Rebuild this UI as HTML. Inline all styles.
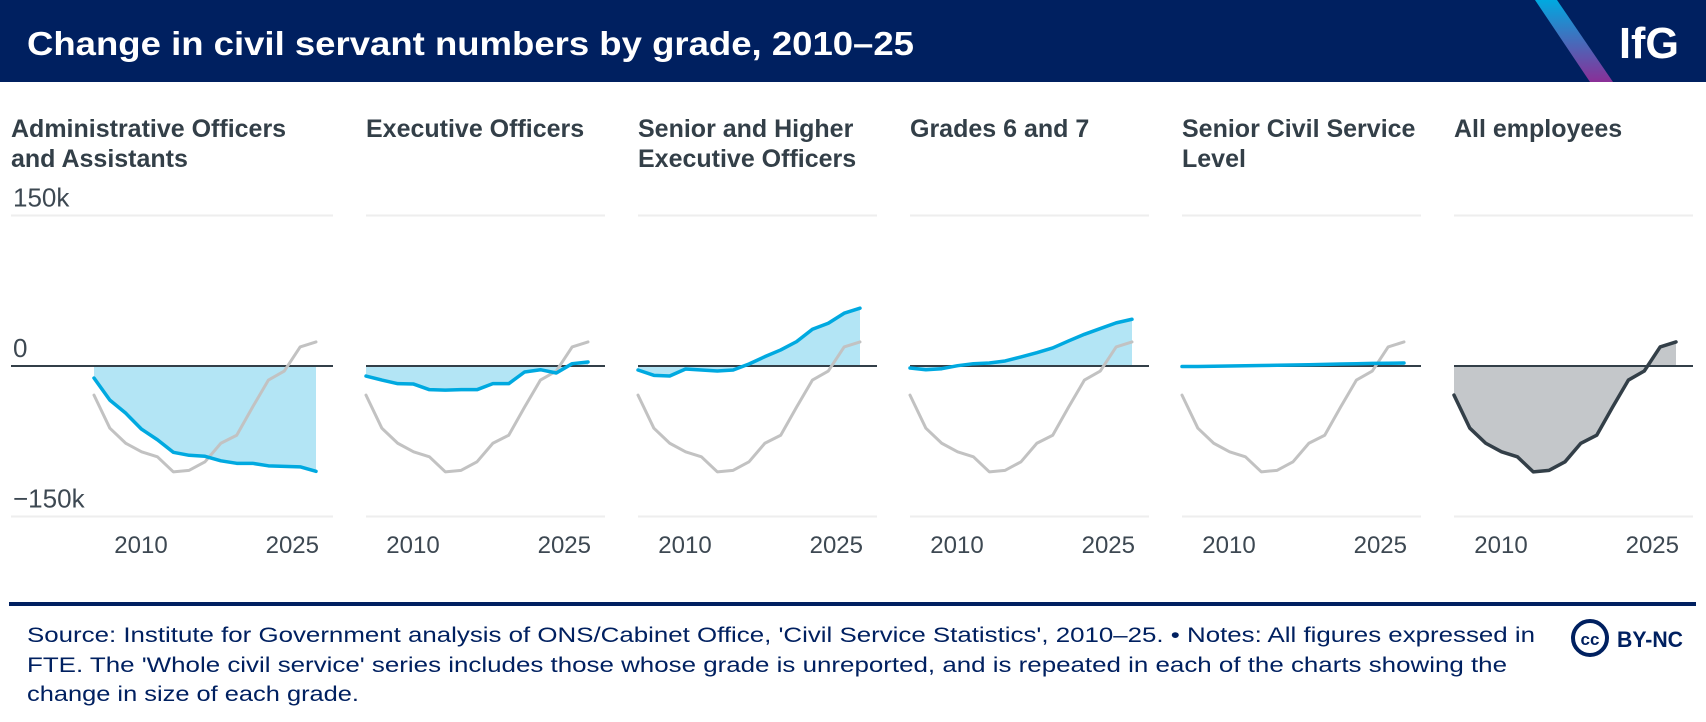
<!DOCTYPE html>
<html><head><meta charset="utf-8">
<style>
html,body{margin:0;padding:0;background:#fff;}
svg{display:block;}
text{font-family:"Liberation Sans",sans-serif;}
</style></head>
<body>
<svg id="chart" width="1706" height="722" viewBox="0 0 1706 722" xmlns="http://www.w3.org/2000/svg">
  <defs>
    <linearGradient id="stripe" x1="0" y1="0" x2="0" y2="1">
      <stop offset="0" stop-color="#00a9e0"/>
      <stop offset="1" stop-color="#8a2f97"/>
    </linearGradient>
  </defs>
  <rect x="0" y="0" width="1706" height="82" fill="#002060"/>
  <text x="27" y="55" font-size="33" font-weight="bold" fill="#fff" textLength="887" lengthAdjust="spacingAndGlyphs">Change in civil servant numbers by grade, 2010–25</text>
  <polygon points="1535,0 1557,0 1613,82 1590,82" fill="url(#stripe)"/>
  <text x="1619" y="58" font-size="44" font-weight="bold" fill="#fff" textLength="60" lengthAdjust="spacingAndGlyphs">IfG</text>
  <g id="panels"></g>
  <rect x="9" y="602" width="1687" height="4" fill="#002060"/>
  <text font-size="21" fill="#002060">
    <tspan x="27" y="642" textLength="1508" lengthAdjust="spacingAndGlyphs">Source: Institute for Government analysis of ONS/Cabinet Office, 'Civil Service Statistics', 2010–25. • Notes: All figures expressed in</tspan>
    <tspan x="27" y="672" textLength="1480" lengthAdjust="spacingAndGlyphs">FTE. The 'Whole civil service' series includes those whose grade is unreported, and is repeated in each of the charts showing the</tspan>
    <tspan x="27" y="701" textLength="332" lengthAdjust="spacingAndGlyphs">change in size of each grade.</tspan>
  </text>
  <g>
    <circle cx="1590" cy="638" r="17" fill="none" stroke="#002060" stroke-width="4"/>
    <text x="1590" y="645" font-size="17" font-weight="bold" fill="#002060" text-anchor="middle">cc</text>
    <text x="1617" y="647" font-size="22" font-weight="bold" fill="#002060" textLength="66" lengthAdjust="spacingAndGlyphs">BY-NC</text>
  </g>
</svg>
<script>
const years = [2011,2012,2013,2014,2015,2016,2017,2018,2019,2020,2021,2022,2023,2024,2025];
const wholeService = [-29,-62,-77,-85.5,-90.5,-105.5,-104,-95.5,-77,-69,-41,-14,-5,19,24];
const adminOfficers = [-12,-34,-47,-63,-73.5,-86,-89,-90,-94.5,-97,-97,-99.5,-100,-100.5,-105];
const execOfficers = [-10,-14,-17.6,-18,-23.6,-24,-23.6,-23.6,-17.6,-17.6,-6,-3.7,-7,2.3,4];
const seniorHigherEO = [-4,-9.3,-10,-3,-4,-5,-4,2,9.3,16,24.3,36.6,42.6,52.6,57.6];
const grades6and7 = [-2,-3.7,-2.7,0.3,2.3,3,5,9,13.3,18,25,31.6,37.3,43,46.6];
const seniorCivilService = [-0.5,-0.5,-0.3,0,0.3,0.5,0.7,1,1.3,1.6,2,2.3,2.6,2.8,3];
const yTicks = [150,0,-150];
const yTickLabels = ["150k","0","−150k"];
const xTickLabels = ["2010","2025"];
const panelTitles = [
  ["Administrative Officers","and Assistants"],
  ["Executive Officers"],
  ["Senior and Higher","Executive Officers"],
  ["Grades 6 and 7"],
  ["Senior Civil Service","Level"],
  ["All employees"]
];
const panelSeries = [adminOfficers, execOfficers, seniorHigherEO, grades6and7, seniorCivilService, wholeService];
const panelNames = ["admin-officers","executive-officers","senior-higher-eo","grades-6-7","senior-civil-service","all-employees"];

const NS = "http://www.w3.org/2000/svg";
const root = document.getElementById("panels");
const Y0 = 366, PXK = 1.0033;
function yScale(v){ return Y0 - v*PXK; }
function xScale(yr, L){ return L + (yr - years[0]) / (years[years.length-1] - years[0]) * 222; }
function mk(tag, attrs, parent){
  const e = document.createElementNS(NS, tag);
  for (const k in attrs) e.setAttribute(k, attrs[k]);
  parent.appendChild(e);
  return e;
}

panelSeries.forEach(function(series, k){
  const L = 94 + 272*k;
  const titleX = k === 0 ? 11 : L;
  const g = mk("g", {}, root);
  
  
  panelTitles[k].forEach(function(line, i){
    const t = mk("text", {x: titleX, y: 137 + i*30, "font-size": 25, "font-weight": "bold", fill: "#333f48"}, g);
    
    
    t.textContent = line;
  });
  const gl = k === 0 ? 11 : L;
  yTicks.forEach(function(v, i){
    if (v !== 0) {
      const ln = mk("line", {x1: gl, x2: L+239, y1: yScale(v), y2: yScale(v), stroke: "#eeeeee", "stroke-width": 2}, g);
      
      
    }
    if (k === 0) {
      const t = mk("text", {x: 13, y: yScale(v) - 9, "font-size": 26, fill: "#3d4852"}, g);
      
      
      t.textContent = yTickLabels[i];
    }
  });
  let d = "M" + xScale(years[0], L) + "," + yScale(0);
  series.forEach(function(v, i){ d += " L" + xScale(years[i], L) + "," + yScale(v); });
  d += " L" + xScale(years[years.length-1], L) + "," + yScale(0) + " Z";
  const area = mk("path", {d: d, fill: k === 5 ? "#c4c7ca" : "#b3e5f5"}, g);
  
  
  const zl = mk("line", {x1: gl, x2: L+239, y1: Y0, y2: Y0, stroke: "#333f48", "stroke-width": 2}, g);
  
  
  function linePath(arr){
    return arr.map(function(v, i){ return (i ? "L" : "M") + xScale(years[i], L) + "," + yScale(v); }).join(" ");
  }
  if (k < 5) {
    const gp = mk("path", {d: linePath(wholeService), fill: "none", stroke: "#c2c2c2", "stroke-width": 3, "stroke-linejoin": "round", "stroke-linecap": "round"}, g);
    
    
  }
  const lp = mk("path", {d: linePath(series), fill: "none", stroke: k === 5 ? "#333f48" : "#00a9e0", "stroke-width": 3.5, "stroke-linejoin": "round", "stroke-linecap": "round"}, g);
  
  
  const t1 = mk("text", {x: L+47, y: 553, "font-size": 24, fill: "#3d4852", "text-anchor": "middle"}, g);
  
  
  t1.textContent = xTickLabels[0];
  const t2 = mk("text", {x: L+225, y: 553, "font-size": 24, fill: "#3d4852", "text-anchor": "end"}, g);
  
  
  t2.textContent = xTickLabels[1];
});
</script>
</body></html>
